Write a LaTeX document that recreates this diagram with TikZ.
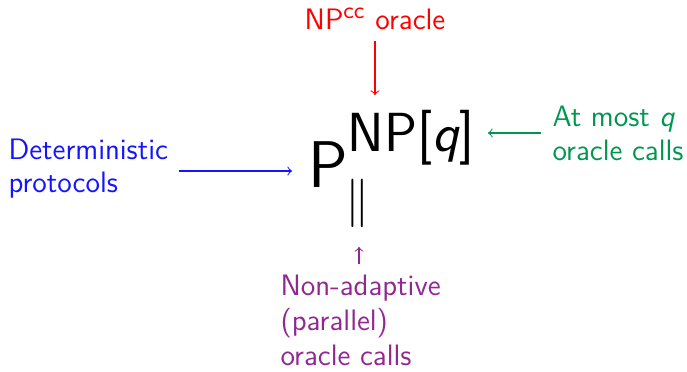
\documentclass[tikz,border=0pt]{standalone}
\usepackage{graphicx}
\usetikzlibrary{arrows}
\definecolor{cred}{RGB}{255,0,0}
\definecolor{cblue}{RGB}{20,20,255}
\definecolor{cgreen}{RGB}{0,150,80}
\definecolor{cpurple}{RGB}{145,40,145}
\begin{document}
\begin{tikzpicture}[x=0.3922pt,y=-0.3922pt,
  lbl/.style={inner sep=0pt, font=\fontsize{11.6}{13.7}\selectfont\sffamily},
  arr/.style={->, line width=0.4pt}]
\useasboundingbox (0,0) rectangle (687,372);
\node[lbl, anchor=base west] (P) at (308,188) {\fontsize{25.9}{28}\selectfont P};
\node[lbl, anchor=base west] (sup) at (347,152) {\fontsize{21.6}{24}\selectfont NP[\textsl{q}]};
\node[inner sep=0pt] (par) at (357.5,203.5) {\scalebox{1.9}{$\parallel$}};
\node[lbl, cred, anchor=base] (ncc) at (375,30) {NP\textsuperscript{\fontsize{9}{10}\selectfont cc} oracle};
\node[lbl, cblue, anchor=base west, align=left, font=\fontsize{11.6}{13.2}\selectfont\sffamily] (det) at (8,193) {Deterministic\\protocols};
\node[lbl, cgreen, anchor=base west, align=left] (grn) at (552,161) {At most \textsl{q}\\oracle calls};
\node[lbl, cpurple, anchor=base west, align=left] (pur) at (280,365) {Non-adaptive\\(parallel)\\oracle calls};
\coordinate (rtip) at (375,95);
\coordinate (btip) at (292,171);
\coordinate (gtip) at (488,133);
\coordinate (ptip) at (359,247);
\draw[arr, cred, shorten <=10*0.3922pt] (ncc.south) -- (rtip);
\draw[arr, cblue, shorten <=11*0.3922pt] (det.east |- btip) -- (btip);
\draw[arr, cgreen, shorten <=11*0.3922pt] (grn.west |- gtip) -- (gtip);
\draw[arr, cpurple, shorten <=10*0.3922pt] (pur.north -| ptip) -- (ptip);
\end{tikzpicture}
\end{document}
